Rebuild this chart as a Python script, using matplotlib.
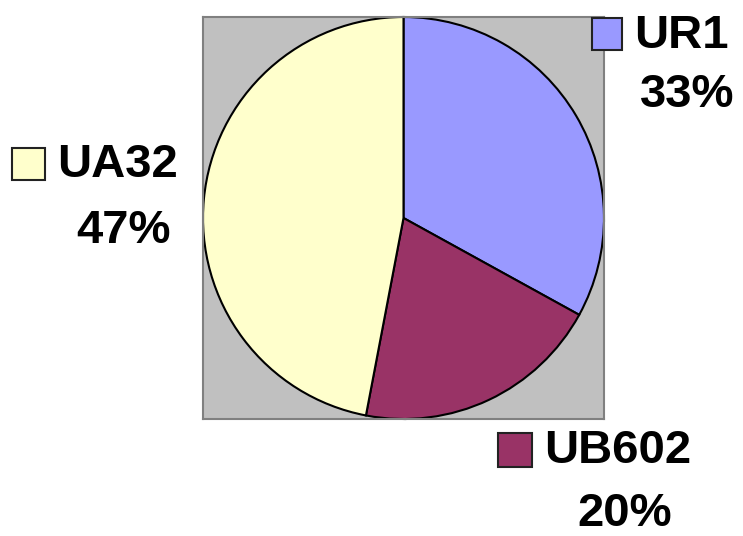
import matplotlib
matplotlib.use("Agg")
import matplotlib.pyplot as plt
from matplotlib.patches import Rectangle

categories = ["UR1", "UB602", "UA32"]
shares = [33, 20, 47]
colors = ["#9999FF", "#993366", "#FFFFCC"]

W, H = 743, 536
fig = plt.figure(figsize=(W / 100, H / 100), dpi=100)
fig.patch.set_facecolor("white")

# plot area in pixels
x0, y0, x1, y1 = 203, 17, 604, 419
ax = fig.add_axes([x0 / W, 1 - y1 / H, (x1 - x0) / W, (y1 - y0) / H])
ax.pie(shares, colors=colors, startangle=90, counterclock=False,
       radius=1.0, frame=True,
       wedgeprops=dict(edgecolor="black", linewidth=1.5))
ax.set_facecolor("#C0C0C0")
ax.set_frame_on(True)
ax.set_xlim(-1.0, 1.0)
ax.set_ylim(-1.0, 1.0)
ax.set_aspect("auto")
ax.set_xticks([])
ax.set_yticks([])
for s in ax.spines.values():
    s.set_visible(True)
    s.set_color("#808080")
    s.set_linewidth(1.5)

font = dict(family="Liberation Sans", weight="bold", size=34, color="black")

# label layout (pixels): marker box, name position, pct position
layout = {
    "UR1": dict(box=(592, 18, 30, 32), name=(634, 48), pct=(640, 107)),
    "UB602": dict(box=(498, 433, 34, 34), name=(544, 463), pct=(577, 526)),
    "UA32": dict(box=(12, 148, 33, 32), name=(57, 177), pct=(76, 243)),
}

for cat, val, col in zip(categories, shares, colors):
    L = layout[cat]
    bx, by, bw, bh = L["box"]
    fig.add_artist(Rectangle((bx / W, 1 - (by + bh) / H), bw / W, bh / H,
                             transform=fig.transFigure, facecolor=col,
                             edgecolor="#222222", linewidth=1.5))
    nx, ny = L["name"]
    fig.text(nx / W, 1 - ny / H, cat, ha="left", va="baseline", **font)
    px, py = L["pct"]
    fig.text(px / W, 1 - py / H, f"{val}%", ha="left", va="baseline", **font)

fig.savefig("out.png", dpi=100)
